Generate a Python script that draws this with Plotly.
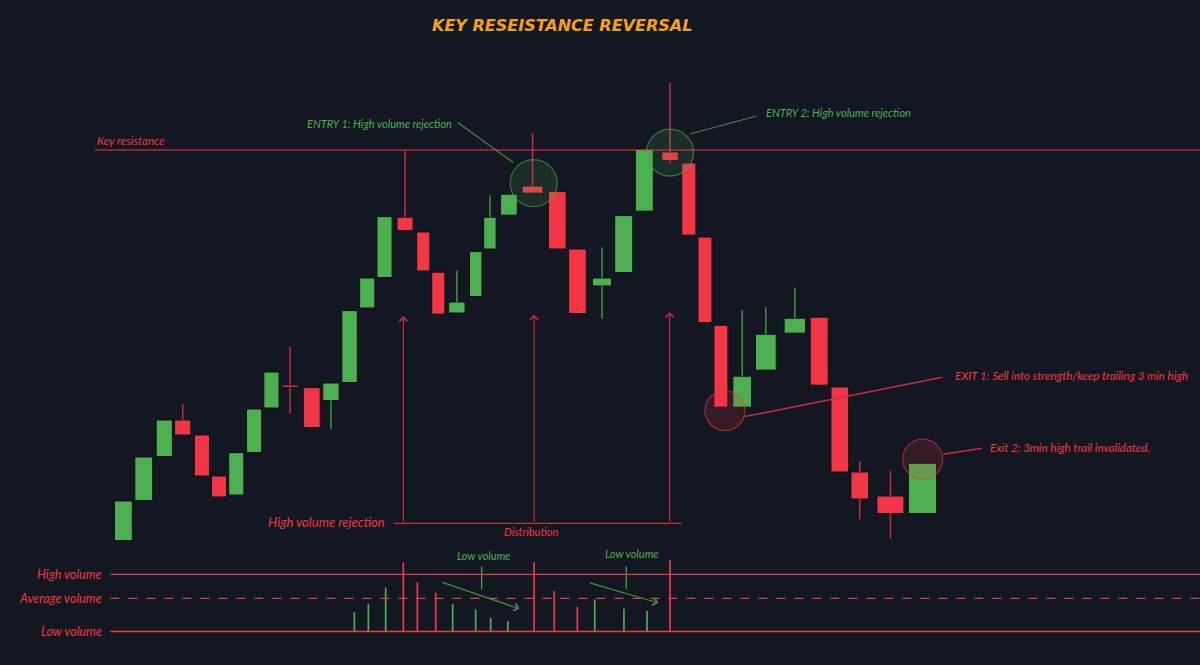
import numpy as np
import plotly.graph_objects as go

# ---- candles (time index, price) ----
t = [1.01, 2.07, 3.14, 4.10, 5.10, 5.99, 6.89, 7.82, 8.72, 9.69,
     10.82, 11.82, 12.79, 13.71, 14.61, 15.68, 16.63, 17.41, 18.38, 19.36,
     20.10, 21.09, 22.32, 23.61, 24.66, 25.94, 27.07, 28.14, 29.48, 30.46,
     31.30, 32.13, 33.24, 34.47, 35.98, 37.25, 38.32, 39.36, 40.96, 42.63]
opens = [5.30, 7.47, 9.67, 11.50, 10.75, 8.70, 7.75, 9.87, 12.10, 13.20,
         13.12, 12.47, 13.37, 17.10, 18.62, 21.64, 20.90, 18.89, 16.85, 17.67,
         20.05, 21.74, 23.20, 22.92, 20.05, 18.20, 18.87, 21.94, 24.90, 24.35,
         20.65, 16.24, 12.14, 13.99, 15.84, 16.64, 13.15, 8.90, 7.70, 6.82]
closes = [7.45, 9.65, 11.50, 10.75, 8.70, 7.65, 9.87, 12.05, 13.90, 13.13,
          11.12, 13.35, 16.97, 18.60, 21.67, 20.97, 18.95, 16.79, 17.40, 19.92,
          21.64, 22.79, 22.84, 20.05, 16.82, 18.60, 21.72, 25.04, 24.47, 20.74,
          16.37, 12.14, 13.69, 15.79, 16.59, 13.24, 8.90, 7.55, 6.82, 9.34]
highs = [7.45, 9.65, 11.50, 12.30, 10.75, 8.70, 9.87, 12.05, 13.90, 15.15,
         13.12, 13.35, 16.97, 18.60, 21.67, 24.97, 20.90, 18.89, 18.97, 19.92,
         22.72, 22.79, 25.84, 22.92, 20.05, 20.14, 21.72, 25.04, 28.35, 24.35,
         20.65, 16.24, 17.00, 17.14, 18.12, 16.64, 13.15, 9.42, 8.97, 9.34]
lows = [5.30, 7.47, 9.67, 10.75, 8.70, 7.65, 7.75, 9.87, 12.10, 11.82,
        11.12, 11.04, 13.37, 17.10, 18.62, 20.97, 18.95, 16.79, 16.85, 17.67,
        20.05, 21.74, 22.84, 20.05, 16.82, 16.57, 18.87, 21.94, 24.34, 20.74,
        16.37, 12.14, 12.14, 13.99, 15.84, 13.24, 8.90, 6.54, 5.59, 6.82]

resistance = 25.0

# ---- volume panel (candles 13..29) ----
vol_t = [13.04, 13.77, 14.67, 15.59, 16.32, 17.28, 18.16, 19.36, 20.14, 21.03,
         22.40, 23.45, 24.65, 25.56, 27.08, 28.28, 29.48]
volume = [34, 48, 77, 121, 86, 68, 48, 39, 24, 18,
          122, 71, 43, 56, 40, 36, 125]
vol_first = 12
vol_levels = {"High volume": 100, "Average volume": 58, "Low volume": 0}

GREEN = "#4caf50"
RED = "#f23645"
BG = "#131722"

o = np.array(opens)
c = np.array(closes)
up = c >= o
tt = np.array(t)
gaps = np.diff(tt)
left = np.r_[gaps[0], gaps]
right = np.r_[gaps, gaps[-1]]
widths = 0.88 * np.minimum(left, right)
base = np.minimum(o, c)
height = np.maximum(np.abs(c - o), 0.12)
top = base + height

fig = go.Figure()

# bodies
fig.add_trace(go.Bar(x=t, y=height, base=base, width=widths,
                     marker=dict(color=[GREEN if u else RED for u in up],
                                 line=dict(color="#0c0f16", width=1)),
                     hoverinfo="skip"))

# wicks (upper and lower parts, bars sit under scatter traces)
for is_up, col in [(True, "#3f9443"), (False, "#c92d3f")]:
    xs, ys = [], []
    for i in range(len(t)):
        if up[i] != is_up:
            continue
        if highs[i] > top[i] + 0.01:
            xs += [t[i], t[i], None]
            ys += [top[i], highs[i], None]
        if lows[i] < base[i] - 0.01:
            xs += [t[i], t[i], None]
            ys += [lows[i], base[i], None]
    fig.add_trace(go.Scatter(x=xs, y=ys, mode="lines",
                             line=dict(color=col, width=1.5), hoverinfo="skip"))

# volume sticks
for is_up, col in [(True, GREEN), (False, RED)]:
    xs, ys = [], []
    for k, v in enumerate(volume):
        if up[vol_first + k] == is_up:
            xs += [vol_t[k], vol_t[k], None]
            ys += [0, v, None]
    fig.add_trace(go.Scatter(x=xs, y=ys, mode="lines", yaxis="y2",
                             line=dict(color=col, width=1.7), hoverinfo="skip"))

# little green ticks under "Low volume"
fig.add_trace(go.Scatter(x=[19.67, 19.67, None, 27.20, 27.20],
                         y=[74, 114, None, 74, 114], mode="lines", yaxis="y2",
                         line=dict(color=GREEN, width=1.2), hoverinfo="skip"))

# leader lines
fig.add_trace(go.Scatter(x=[18.42, 21.32, None, 33.99, 30.52],
                         y=[26.37, 24.37, None, 26.70, 25.80], mode="lines",
                         line=dict(color="#3d8f41", width=1.2), hoverinfo="skip"))
fig.add_trace(go.Scatter(x=[33.39, 43.66, None, 43.71, 45.74],
                         y=[11.67, 13.64, None, 9.79, 10.09], mode="lines",
                         line=dict(color="#c92d3f", width=1.5), hoverinfo="skip"))

# circles
fig.add_trace(go.Scatter(x=[22.38, 29.48], y=[23.34, 24.87], mode="markers",
                         marker=dict(size=47, color="rgba(76,175,80,0.15)",
                                     line=dict(color="rgba(76,175,80,0.6)", width=1.2)),
                         hoverinfo="skip"))
fig.add_trace(go.Scatter(x=[32.34, 42.64], y=[11.97, 9.54], mode="markers",
                         marker=dict(size=40, color="rgba(242,54,69,0.15)",
                                     line=dict(color="rgba(242,54,69,0.6)", width=1.2)),
                         hoverinfo="skip"))

shapes = [dict(type="line", xref="paper", x0=0.079, x1=1, yref="y", layer="above",
               y0=resistance, y1=resistance, line=dict(color=RED, width=1.2))]
for name, lv in vol_levels.items():
    shapes.append(dict(type="line", xref="paper", x0=0.092, x1=1, yref="y2",
                       y0=lv, y1=lv, layer="above",
                       line=dict(color=RED, width=1.3,
                                 dash="dash" if name == "Average volume" else "solid")))
# distribution bracket
shapes.append(dict(type="line", xref="x", yref="y", x0=15.10, x1=30.09,
                   y0=6.33, y1=6.33, line=dict(color="#c22c3d", width=1.2)))

lab = dict(family="Lato", style="italic", size=11)
ann = [
    dict(text="KEY RESEISTANCE REVERSAL", xref="paper", yref="paper", x=0.468, y=0.962,
         font=dict(family="DejaVu Sans", size=16, weight="bold",
                   style="italic", color="#f7a20d")),
    dict(text="Key resistance", x=-0.47, y=25.5, xanchor="left",
         font=dict(lab, size=11.5, color=RED)),
    dict(text="ENTRY 1: High volume rejection", x=18.24, y=26.34, xanchor="right",
         font=dict(lab, color=GREEN)),
    dict(text="ENTRY 2: High volume rejection", x=34.38, y=26.89, xanchor="left",
         font=dict(lab, color=GREEN)),
    dict(text="EXIT 1: Sell into strength/keep trailing 3 min high", x=44.2, y=13.74,
         xanchor="left", font=dict(lab, size=11.5, color=RED)),
    dict(text="Exit 2: 3min high trail invalidated.", x=46.03, y=10.14,
         xanchor="left", font=dict(lab, size=11.5, color=RED)),
    dict(text="High volume rejection", x=14.76, y=6.39, xanchor="right",
         font=dict(lab, size=13, color=RED)),
    dict(text="Distribution", x=22.24, y=5.92, font=dict(lab, color=RED)),
    dict(text="Low volume", x=19.78, y=134, yref="y2", font=dict(lab, color=GREEN)),
    dict(text="Low volume", x=27.5, y=137, yref="y2", font=dict(lab, color=GREEN)),
]
for name, lv in vol_levels.items():
    ann.append(dict(text=name, xref="paper", x=0.087, y=lv, yref="y2", xanchor="right",
                    font=dict(lab, size=12.5, color=RED)))
for a in ann:
    a.setdefault("showarrow", False)
    a.setdefault("xref", "x")
    a.setdefault("yref", "y")
    a.setdefault("yanchor", "middle")

# arrows up from the distribution bracket
for xa, ya in [(15.59, 16.70), (22.40, 16.78), (29.46, 16.90)]:
    ann.append(dict(text="", x=xa, y=ya, ax=xa, ay=6.33, xref="x", yref="y",
                    axref="x", ayref="y", showarrow=True, arrowhead=4, arrowsize=1.3,
                    arrowwidth=1.2, arrowcolor="#c22c3d"))
# green arrows in the volume panel
for x0, y0, x1, y1 in [(17.54, 87, 21.63, 40), (25.23, 86, 28.87, 50)]:
    ann.append(dict(text="", x=x1, y=y1, ax=x0, ay=y0, xref="x", yref="y2",
                    axref="x", ayref="y2", showarrow=True, arrowhead=4, arrowsize=1.3,
                    arrowwidth=1.2, arrowcolor="#3d8f41"))

fig.update_layout(
    width=1200, height=665,
    margin=dict(l=0, r=0, t=0, b=0),
    paper_bgcolor=BG, plot_bgcolor=BG,
    showlegend=False, barmode="overlay", hovermode=False,
    xaxis=dict(range=[-5.4167, 57.0833], visible=False, fixedrange=True),
    yaxis=dict(range=[-0.75, 32.5], domain=[0, 1], visible=False, fixedrange=True),
    yaxis2=dict(range=[-58.8, 160.5], domain=[0, 0.188], anchor="x",
                visible=False, fixedrange=True),
    shapes=shapes, annotations=ann,
)

fig.write_html("out.html", config={"displayModeBar": False},
               post_script="document.body.style.margin='0';"
                           "document.body.style.background='#131722';")
